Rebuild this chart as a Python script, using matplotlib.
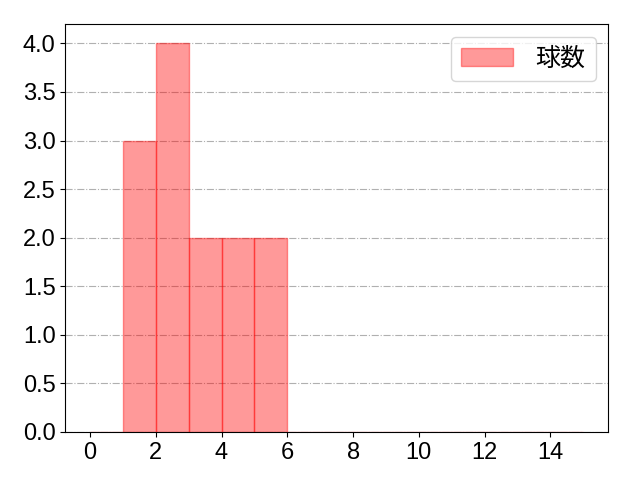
import matplotlib
matplotlib.use("Agg")
import matplotlib.pyplot as plt
import numpy as np

plt.rcParams['font.family'] = ['Liberation Sans', 'Noto Sans CJK JP']

bin_edges = list(range(0, 16))
counts = [0, 3, 4, 2, 2, 2, 0, 0, 0, 0, 0, 0, 0, 0, 0]
label = '球数'
x_ticks = [0, 2, 4, 6, 8, 10, 12, 14]
y_ticks = [0.0, 0.5, 1.0, 1.5, 2.0, 2.5, 3.0, 3.5, 4.0]

fig, ax = plt.subplots(figsize=(6.4, 4.8), dpi=100)
fig.subplots_adjust(left=0.102, right=0.95, top=0.95, bottom=0.1)
ax.hist(bin_edges[:-1], bins=bin_edges, weights=counts,
        facecolor=(1, 0, 0, 0.4), edgecolor=(1, 0, 0, 0.4), linewidth=1,
        label=label)
ax.grid(axis='y', linestyle='-.', color='#b0b0b0', linewidth=0.8)
ax.set_axisbelow(True)
ax.set_xticks(x_ticks)
ax.set_yticks(y_ticks)
ax.set_yticklabels([f'{v:.1f}' for v in y_ticks])
ax.tick_params(labelsize=17)
ax.legend(fontsize=18, handletextpad=0.9, handlelength=2.1, loc='upper right')
fig.savefig('out.png', dpi=100)
